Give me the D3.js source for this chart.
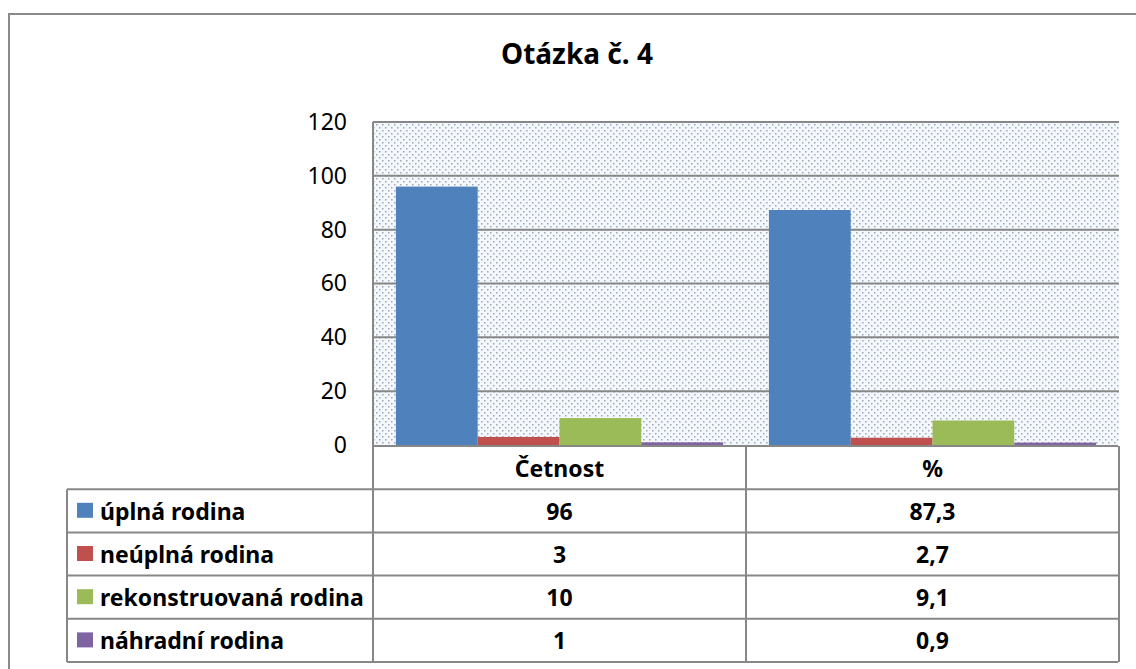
<!DOCTYPE html>
<html>
<head>
<meta charset="utf-8">
<script src="https://cdn.jsdelivr.net/npm/d3@7"></script>
<style>
  body { margin: 0; background: #fff; }
  svg text { font-family: "Noto Sans", "Open Sans", sans-serif; fill: #000; }
</style>
</head>
<body>
<svg id="chart" width="1136" height="669"></svg>
<script>
const title = 'Otázka č. 4';
const categories = ['Četnost', '%'];
const seriesNames = ['úplná rodina', 'neúplná rodina', 'rekonstruovaná rodina', 'náhradní rodina'];
const seriesColors = ['#4f81bd', '#c0504d', '#9bbb59', '#8064a2'];
const cetnost = [96, 3, 10, 1];
const procenta = [87.3, 2.7, 9.1, 0.9];
const yTicks = [0, 20, 40, 60, 80, 100, 120];

const values = [cetnost, procenta];

// czech number format, comma as decimal separator
const cz = d3.formatLocale({ decimal: ',', thousands: ' ', grouping: [3], currency: ['', ' Kč'] });
const fmt = [cz.format('.0f'), cz.format('.1f')];

const svg = d3.select('#chart');

const plot = { left: 373, right: 1119, top: 122, bottom: 445 };
const table = { left: 67, right: 1118, headTop: 446, rowH: 43.2 };
const gridColor = '#878787';
const cellFont = 23;

// dotted plot fill
const pat = svg.append('defs').append('pattern')
    .attr('id', 'dots')
    .attr('patternUnits', 'userSpaceOnUse')
    .attr('width', 6)
    .attr('height', 6);
pat.append('rect').attr('width', 6).attr('height', 6).attr('fill', '#f4f8fc');
pat.append('rect').attr('x', 1).attr('y', 1).attr('width', 1.5).attr('height', 1.5).attr('fill', '#9ea7b8');
pat.append('rect').attr('x', 4).attr('y', 4).attr('width', 1.5).attr('height', 1.5).attr('fill', '#9ea7b8');

// chart frame
svg.append('rect')
    .attr('x', 9).attr('y', 14)
    .attr('width', 1300).attr('height', 800)
    .attr('fill', '#fff')
    .attr('stroke', '#8a8a8a')
    .attr('stroke-width', 2);

svg.append('text')
    .attr('x', 577).attr('y', 56)
    .attr('text-anchor', 'middle')
    .attr('dominant-baseline', 'middle')
    .attr('font-size', 28)
    .attr('font-weight', 'bold')
    .text(title);

const x0 = d3.scaleBand()
    .domain(categories)
    .range([plot.left, plot.right]);

const x1 = d3.scaleBand()
    .domain(seriesNames)
    .range([0, x0.bandwidth()])
    .paddingOuter(0.28);

const y = d3.scaleLinear()
    .domain([0, 120])
    .range([plot.bottom, plot.top]);

svg.append('rect')
    .attr('x', plot.left).attr('y', plot.top)
    .attr('width', plot.right - plot.left)
    .attr('height', plot.bottom - plot.top)
    .attr('fill', 'url(#dots)');

// gridlines
svg.append('g')
    .selectAll('line')
    .data(yTicks.filter(d => d > 0))
    .join('line')
    .attr('x1', plot.left).attr('x2', plot.right)
    .attr('y1', d => y(d)).attr('y2', d => y(d))
    .attr('stroke', gridColor)
    .attr('stroke-width', 2);

// y axis
const yAxis = svg.append('g')
    .attr('transform', `translate(${plot.left},0)`)
    .call(d3.axisLeft(y).tickValues(yTicks).tickSize(0).tickPadding(26));
yAxis.select('.domain').remove();
yAxis.selectAll('text')
    .attr('font-size', 23)
    .attr('font-family', '"Noto Sans", sans-serif')
    .attr('fill', '#000');

// bars
svg.append('g')
    .selectAll('g')
    .data(categories)
    .join('g')
    .attr('transform', d => `translate(${x0(d)},0)`)
    .selectAll('rect')
    .data((d, ci) => seriesNames.map((s, si) => ({ s, si, v: values[ci][si] })))
    .join('rect')
    .attr('x', d => x1(d.s))
    .attr('width', x1.bandwidth())
    .attr('y', d => y(d.v))
    .attr('height', d => y(0) - y(d.v))
    .attr('fill', d => seriesColors[d.si]);

// data table
const tbl = svg.append('g');
const rowTop = i => table.headTop + table.rowH * (i + 1);
const tableBottom = rowTop(seriesNames.length);

const lines = [];
// header row borders
lines.push([plot.left, table.headTop, table.right, table.headTop]);
for (let i = 0; i <= seriesNames.length; i++) {
    lines.push([table.left, rowTop(i), table.right, rowTop(i)]);
}
lines.push([table.left, rowTop(0), table.left, tableBottom]);
lines.push([plot.left, plot.top, plot.left, tableBottom]);
categories.forEach(c => {
    lines.push([x0(c) + x0.bandwidth(), table.headTop, x0(c) + x0.bandwidth(), tableBottom]);
});
tbl.selectAll('line')
    .data(lines)
    .join('line')
    .attr('x1', d => d[0]).attr('y1', d => d[1])
    .attr('x2', d => d[2]).attr('y2', d => d[3])
    .attr('stroke', gridColor)
    .attr('stroke-width', 2);

tbl.selectAll('.head')
    .data(categories)
    .join('text')
    .attr('class', 'head')
    .attr('x', d => x0(d) + x0.bandwidth() / 2)
    .attr('y', table.headTop + table.rowH / 2)
    .attr('text-anchor', 'middle')
    .attr('dominant-baseline', 'central')
    .attr('font-size', cellFont)
    .attr('font-weight', 'bold')
    .text(d => d);

const rows = tbl.selectAll('.row')
    .data(seriesNames)
    .join('g')
    .attr('class', 'row')
    .attr('transform', (d, i) => `translate(0,${rowTop(i)})`);

rows.append('rect')
    .attr('x', 77).attr('y', table.rowH / 2 - 8)
    .attr('width', 16).attr('height', 15)
    .attr('fill', (d, i) => seriesColors[i]);

rows.append('text')
    .attr('x', 100)
    .attr('y', table.rowH / 2)
    .attr('dominant-baseline', 'central')
    .attr('font-size', cellFont)
    .attr('font-weight', 'bold')
    .text(d => d);

categories.forEach((c, ci) => {
    rows.append('text')
        .attr('x', x0(c) + x0.bandwidth() / 2)
        .attr('y', table.rowH / 2)
        .attr('text-anchor', 'middle')
        .attr('dominant-baseline', 'central')
        .attr('font-size', cellFont)
        .attr('font-weight', 'bold')
        .text((d, si) => fmt[ci](values[ci][si]));
});
</script>
</body>
</html>
